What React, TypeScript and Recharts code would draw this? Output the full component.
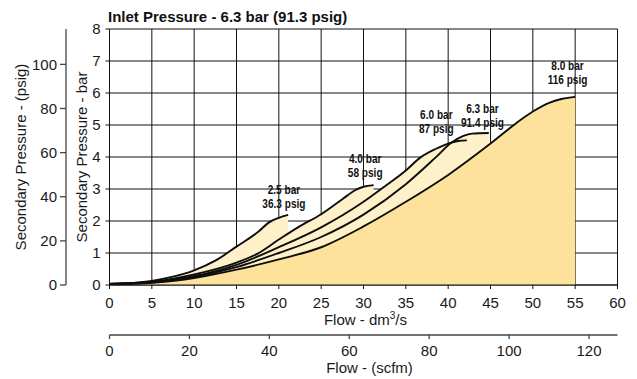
import { ComposedChart, Area, Line, XAxis, YAxis, CartesianGrid, ReferenceDot } from 'recharts';

const FONT = '"Liberation Sans", Arial, Helvetica, sans-serif';

// axis ticks
const flowTicks = [0, 5, 10, 15, 20, 25, 30, 35, 40, 45, 50, 55, 60];
const barTicks = [0, 1, 2, 3, 4, 5, 6, 7, 8];
const psigTicks = [0, 20, 40, 60, 80, 100];
const scfmTicks = [0, 20, 40, 60, 80, 100, 120];

// unit conversions for the secondary axes
const BAR_TO_PSIG = 14.5038;
const DM3S_TO_SCFM = 2.11888;

// flow (dm3/s) vs secondary pressure (bar)
const curve25 = [
  { x: 0, y: 0.04 }, { x: 2.5, y: 0.06 }, { x: 5, y: 0.13 }, { x: 7.5, y: 0.26 },
  { x: 10, y: 0.46 }, { x: 12.5, y: 0.76 }, { x: 15, y: 1.2 }, { x: 17.6, y: 1.67 },
  { x: 18.8, y: 1.95 }, { x: 20, y: 2.1 }, { x: 21.1, y: 2.19 },
];
const curve40 = [
  { x: 0, y: 0.03 }, { x: 5, y: 0.1 }, { x: 10, y: 0.33 }, { x: 15, y: 0.7 },
  { x: 17.5, y: 0.98 }, { x: 20, y: 1.42 }, { x: 22.5, y: 1.84 }, { x: 25, y: 2.21 },
  { x: 27.5, y: 2.68 }, { x: 29, y: 2.96 }, { x: 30, y: 3.07 }, { x: 31.2, y: 3.12 },
];
const curve60 = [
  { x: 0, y: 0.03 }, { x: 5, y: 0.09 }, { x: 10, y: 0.28 }, { x: 15, y: 0.63 },
  { x: 20, y: 1.18 }, { x: 25, y: 1.8 }, { x: 30, y: 2.6 }, { x: 32.5, y: 3.08 },
  { x: 35, y: 3.58 }, { x: 36.7, y: 3.98 }, { x: 38.5, y: 4.25 }, { x: 40, y: 4.42 },
  { x: 41.2, y: 4.5 }, { x: 42.2, y: 4.52 },
];
const curve63 = [
  { x: 0, y: 0.03 }, { x: 5, y: 0.08 }, { x: 10, y: 0.25 }, { x: 15, y: 0.56 },
  { x: 20, y: 1.0 }, { x: 25, y: 1.5 }, { x: 30, y: 2.2 }, { x: 35, y: 3.15 },
  { x: 38.5, y: 3.98 }, { x: 40.4, y: 4.45 }, { x: 41.8, y: 4.66 }, { x: 42.8, y: 4.73 },
  { x: 44.8, y: 4.75 },
];
const curve80 = [
  { x: 0, y: 0.03 }, { x: 5, y: 0.07 }, { x: 10, y: 0.22 }, { x: 15, y: 0.48 },
  { x: 20, y: 0.8 }, { x: 25, y: 1.18 }, { x: 30, y: 1.83 }, { x: 35, y: 2.6 },
  { x: 40, y: 3.44 }, { x: 45, y: 4.42 }, { x: 48, y: 5.05 }, { x: 50, y: 5.42 },
  { x: 52, y: 5.7 }, { x: 53.5, y: 5.82 }, { x: 55, y: 5.88 },
];

const curveNames = ['2.5 bar', '4.0 bar', '6.0 bar', '6.3 bar', '8.0 bar'];
const curvePsig = ['36.3 psig', '58 psig', '87 psig', '91.4 psig', '116 psig'];
const curves = [curve25, curve40, curve60, curve63, curve80];

// where each two-line note sits (centre x, baseline of the lower line)
const noteAnchors = [
  { x: 20.6, y: 2.41 },
  { x: 30.2, y: 3.375 },
  { x: 38.6, y: 4.75 },
  { x: 44.05, y: 4.94 },
  { x: 54.1, y: 6.28 },
];

// the scfm axis has no series of its own, so the chart data carries its ticks
const scfmRows = scfmTicks.map((v) => ({ scfm: v }));

const LIGHT = '#fef0c8';
const DARK = '#fde29b';

function CurveNote(props: any) {
  const { cx, cy, top, bottom } = props;
  // squeeze the bold face to look like the condensed type of the original
  return (
    <g transform={`translate(${cx}, ${cy}) scale(0.84, 1)`}>
      <text x={0} y={0} textAnchor="middle" fontFamily={FONT} fontWeight="bold" fontSize={12} fill="#111">
        <tspan x={0} dy={-14}>{top}</tspan>
        <tspan x={0} dy={14}>{bottom}</tspan>
      </text>
    </g>
  );
}

function RotatedLabel({ viewBox, value, cx }: any) {
  const y = viewBox.y + viewBox.height / 2;
  return (
    <text
      x={cx}
      y={y}
      dy="0.35em"
      transform={`rotate(-90, ${cx}, ${y})`}
      textAnchor="middle"
      fontSize={15}
      fontFamily={FONT}
      fill="#1a1a1a"
    >
      {value}
    </text>
  );
}

function FlowLabel({ viewBox }: any) {
  const x = viewBox.x + viewBox.width / 2 + 2;
  return (
    <text x={x} y={325} textAnchor="middle" fontSize={15} fontFamily={FONT} fill="#1a1a1a">
      <tspan>Flow - dm</tspan>
      <tspan dy={-6} fontSize={10}>3</tspan>
      <tspan dy={6}>/s</tspan>
    </text>
  );
}

function ScfmLabel({ viewBox }: any) {
  const x = viewBox.x + viewBox.width / 2 + 6;
  return (
    <text x={x} y={373} textAnchor="middle" fontSize={15} fontFamily={FONT} fill="#1a1a1a">
      Flow - (scfm)
    </text>
  );
}

const tickStyle = { fill: '#1a1a1a', fontSize: 15, fontFamily: FONT };

export default function App() {
  return (
    <div style={{ position: 'absolute', left: 0, top: 0, width: 637, height: 379, background: '#fff' }}>
      <div
        style={{
          position: 'absolute',
          left: 108,
          top: 8,
          fontFamily: FONT,
          fontWeight: 'bold',
          fontSize: 15,
          lineHeight: '17px',
          color: '#111',
          whiteSpace: 'nowrap',
        }}
      >
        Inlet Pressure - 6.3 bar (91.3 psig)
      </div>
      <ComposedChart
        width={637}
        height={379}
        data={scfmRows}
        margin={{ top: 29, right: 19.5, bottom: 0, left: 0 }}
        style={{ fontFamily: FONT }}
      >
        <XAxis
          xAxisId="dm"
          type="number"
          dataKey="x"
          domain={[0, 60]}
          ticks={flowTicks}
          interval={0}
          allowDataOverflow
          height={50}
          tick={tickStyle}
          tickSize={4}
          tickMargin={8}
          axisLine={{ stroke: '#111' }}
          tickLine={{ stroke: '#111' }}
          label={{ content: (p: any) => <FlowLabel {...p} /> }}
        />
        <XAxis
          xAxisId="scfm"
          type="number"
          dataKey="scfm"
          domain={[0, 60 * DM3S_TO_SCFM]}
          ticks={scfmTicks}
          interval={0}
          allowDataOverflow
          height={44}
          tick={tickStyle}
          tickSize={4}
          tickMargin={6}
          axisLine={{ stroke: '#444', strokeWidth: 1.3 }}
          tickLine={{ stroke: '#444', strokeWidth: 1.3 }}
          label={{ content: (p: any) => <ScfmLabel {...p} /> }}
        />
        <YAxis
          yAxisId="bar"
          type="number"
          domain={[0, 8]}
          ticks={barTicks}
          interval={0}
          allowDataOverflow
          width={43.5}
          tick={tickStyle}
          tickSize={4}
          tickMargin={5}
          axisLine={{ stroke: '#111' }}
          tickLine={{ stroke: '#111' }}
          label={{ content: (p: any) => <RotatedLabel {...p} cx={82} value="Secondary Pressure - bar" /> }}
        />
        <YAxis
          yAxisId="psig"
          type="number"
          domain={[0, 8 * BAR_TO_PSIG]}
          ticks={psigTicks}
          interval={0}
          allowDataOverflow
          width={66}
          tick={tickStyle}
          tickSize={6}
          tickMargin={3}
          axisLine={{ stroke: '#444', strokeWidth: 1.3 }}
          tickLine={{ stroke: '#444', strokeWidth: 1.3 }}
          label={{ content: (p: any) => <RotatedLabel {...p} cx={21} value="Secondary Pressure - (psig)" /> }}
        />

        {curves.map((data, i) => (
          <Area
            key={`area-${i}`}
            xAxisId="dm"
            yAxisId="bar"
            data={data}
            dataKey="y"
            type="monotone"
            stroke="none"
            fill={i === curves.length - 1 ? DARK : LIGHT}
            fillOpacity={1}
            isAnimationActive={false}
            activeDot={false}
            dot={false}
          />
        ))}

        <CartesianGrid xAxisId="dm" yAxisId="bar" stroke="#111" strokeWidth={1} />

        {curves.map((data, i) => (
          <Line
            key={`line-${i}`}
            xAxisId="dm"
            yAxisId="bar"
            data={data}
            dataKey="y"
            name={curveNames[i]}
            type="monotone"
            stroke="#0d0d0d"
            strokeWidth={1.9}
            dot={false}
            activeDot={false}
            isAnimationActive={false}
          />
        ))}

        {noteAnchors.map((a, i) => (
          <ReferenceDot
            key={`note-${i}`}
            xAxisId="dm"
            yAxisId="bar"
            x={a.x}
            y={a.y}
            r={0}
            shape={(p: any) => <CurveNote {...p} top={curveNames[i]} bottom={curvePsig[i]} />}
          />
        ))}
      </ComposedChart>
    </div>
  );
}
